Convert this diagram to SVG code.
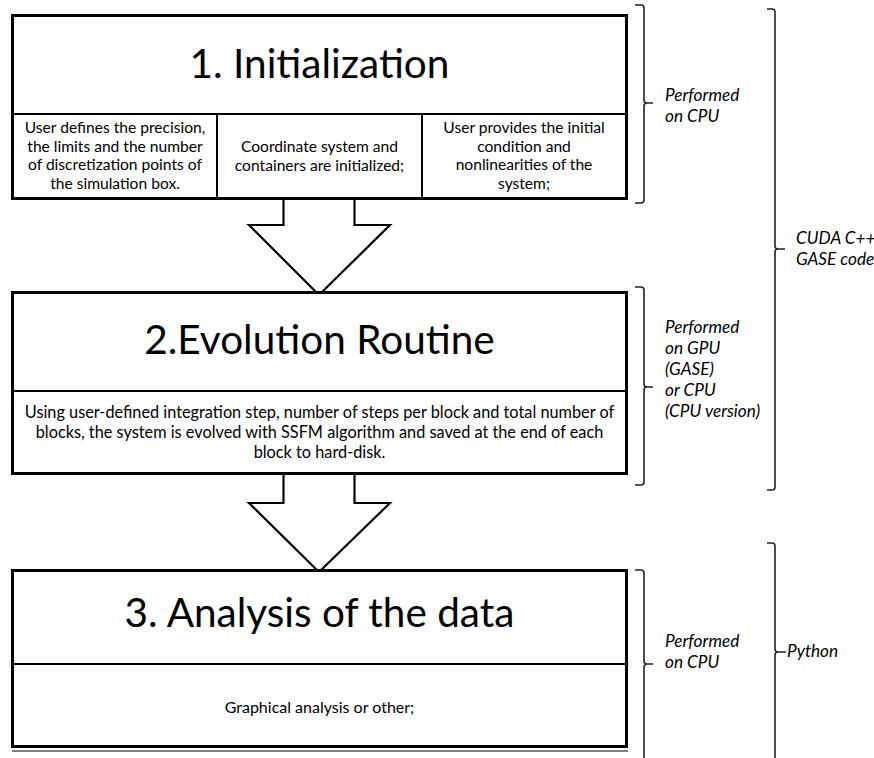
<svg xmlns="http://www.w3.org/2000/svg" width="874" height="758" viewBox="0 0 874 758">
<style>
.box{fill:#fff;stroke:#000;stroke-width:3}
.div{stroke:#000;stroke-width:2;fill:none}
.arrow{fill:#fff;stroke:#000;stroke-width:2.2;stroke-linejoin:miter}
.br{fill:none;stroke:#222;stroke-width:1.6}
.title{font-family:Lato,"Liberation Sans",sans-serif;font-size:40.5px;fill:#000;text-anchor:middle}
.txt{font-family:Lato,"Liberation Sans",sans-serif;font-size:15.6px;fill:#000;text-anchor:middle}
.txt2{font-family:Lato,"Liberation Sans",sans-serif;font-size:16.3px;fill:#000;text-anchor:middle}
.lbl{font-family:Lato,"Liberation Sans",sans-serif;font-size:17.2px;font-style:italic;fill:#000}
</style>
<rect width="874" height="758" fill="#fff"/>
<g id="connectors">
<polygon class="arrow" points="283.5,198 354.5,198 354.5,225 390,225 319,295 249,225 283.5,225"/>
<polygon class="arrow" points="283.5,474 354.5,474 354.5,503 390,503 319,572 249,503 283.5,503"/>
</g>
<g id="node1">
<rect class="box" x="12.5" y="15.5" width="614" height="183"/>
<line class="div" x1="12" y1="114" x2="627" y2="114"/>
<line class="div" x1="217" y1="114" x2="217" y2="198"/>
<line class="div" x1="422" y1="114" x2="422" y2="198"/>
<text class="title" x="319.5" y="78">1. Initialization</text>
<text class="txt" x="115" y="133">User defines the precision,</text>
<text class="txt" x="115" y="151.5">the limits and the number</text>
<text class="txt" x="115" y="170">of discretization points of</text>
<text class="txt" x="115" y="188.5">the simulation box.</text>
<text class="txt" x="319.5" y="152">Coordinate system and</text>
<text class="txt" x="319.5" y="171">containers are initialized;</text>
<text class="txt" x="524" y="133">User provides the initial</text>
<text class="txt" x="524" y="151.5">condition and</text>
<text class="txt" x="524" y="170">nonlinearities of the</text>
<text class="txt" x="524" y="188.5">system;</text>
</g>
<g id="node2">
<rect class="box" x="12.5" y="292.5" width="614" height="181"/>
<line class="div" x1="12" y1="391" x2="627" y2="391"/>
<text class="title" x="319.5" y="354">2.Evolution Routine</text>
<text class="txt2" x="319.5" y="418">Using user-defined integration step, number of steps per block and total number of</text>
<text class="txt2" x="319.5" y="438">blocks, the system is evolved with SSFM algorithm and saved at the end of each</text>
<text class="txt2" x="319.5" y="458">block to hard-disk.</text>
</g>
<g id="node3">
<rect class="box" x="12.5" y="570.5" width="614" height="176"/>
<line class="div" x1="12" y1="664" x2="627" y2="664"/>
<line x1="12" y1="751" x2="628" y2="751" stroke="#555" stroke-width="1.5"/>
<text class="title" x="319.5" y="627">3. Analysis of the data</text>
<text class="txt2" x="319.5" y="713" style="font-size:16px">Graphical analysis or other;</text>
</g>
<g id="brackets">
<path class="br" d="M635,5 H641 Q644,5 644,8 V100 Q644,103 647,103 H653 M647,103 Q644,103 644,106 V200 Q644,203 641,203 H635"/>
<path class="br" d="M635,287 H641 Q644,287 644,290 V384 Q644,387 647,387 H653 M647,387 Q644,387 644,390 V482 Q644,485 641,485 H635"/>
<path class="br" d="M635,570 H641 Q644,570 644,573 V661 Q644,664 647,664 H653 M647,664 Q644,664 644,667 V758"/>
<path class="br" d="M767,9 H772 Q775,9 775,12 V246 Q775,249 778,249 H785 M778,249 Q775,249 775,252 V487 Q775,490 772,490 H767"/>
<path class="br" d="M767,543 H772 Q775,543 775,546 V649 Q775,652 778,652 H786 M778,652 Q775,652 775,655 V758"/>
<text class="lbl" x="665" y="101">Performed</text>
<text class="lbl" x="665" y="122">on CPU</text>
<text class="lbl" x="796" y="244">CUDA C++</text>
<text class="lbl" x="796" y="265">GASE code</text>
<text class="lbl" x="665" y="333">Performed</text>
<text class="lbl" x="665" y="354">on GPU</text>
<text class="lbl" x="665" y="375">(GASE)</text>
<text class="lbl" x="665" y="396">or CPU</text>
<text class="lbl" x="665" y="417">(CPU version)</text>
<text class="lbl" x="665" y="647">Performed</text>
<text class="lbl" x="665" y="668">on CPU</text>
<text class="lbl" x="787" y="657">Python</text>
</g>
</svg>
